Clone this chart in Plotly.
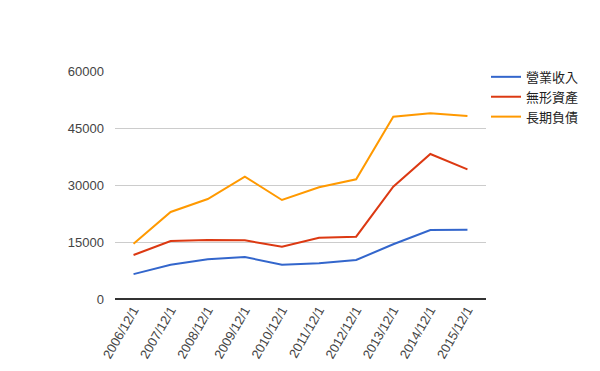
import plotly.graph_objects as go

dates = ["2006/12/1", "2007/12/1", "2008/12/1", "2009/12/1", "2010/12/1",
         "2011/12/1", "2012/12/1", "2013/12/1", "2014/12/1", "2015/12/1"]
revenue = [6550, 9000, 10450, 11050, 9000, 9400, 10260, 14400, 18160, 18200]
intangible = [11580, 15260, 15500, 15440, 13770, 16140, 16400, 29560, 38160, 34130]
long_debt = [14560, 22900, 26300, 32190, 26050, 29400, 31500, 47980, 48860, 48160]

series_names = ["營業收入", "無形資產", "長期負債"]
colors = ["#3366cc", "#dc3912", "#ff9900"]
y_ticks = [0, 15000, 30000, 45000, 60000]

fig = go.Figure()
for name, vals, c in zip(series_names, [revenue, intangible, long_debt], colors):
    fig.add_trace(go.Scatter(x=dates, y=vals, name=name, mode="lines",
                             line=dict(color=c, width=2)))

fig.update_layout(
    width=600, height=371,
    margin=dict(l=115, r=114, t=71, b=72, autoexpand=False),
    paper_bgcolor="white", plot_bgcolor="white",
    font=dict(family="Liberation Sans, Arial, Noto Sans CJK TC", size=13, color="#444"),
    showlegend=True,
    legend=dict(x=1.0, y=1.04, xanchor="left", yanchor="top",
                font=dict(size=13, color="#222", family="Noto Sans CJK TC, Liberation Sans"),
                tracegroupgap=0, itemwidth=30, bgcolor="rgba(0,0,0,0)"),
    xaxis=dict(type="category", range=[-0.5, 9.5], tickangle=-60, showgrid=False,
               showline=False, ticks="", automargin=False,
               tickfont=dict(size=13, color="#444"), zeroline=False),
    yaxis=dict(range=[0, 60000], tickvals=y_ticks, ticktext=[str(v) for v in y_ticks],
               showgrid=True, gridcolor="#cccccc", gridwidth=1, automargin=False,
               zeroline=True, zerolinecolor="#333333", zerolinewidth=1.5,
               showline=False, ticks="", ticklabelstandoff=10,
               tickfont=dict(size=13, color="#444")),
)

fig.write_html("out.html", config={"displayModeBar": False},
               post_script="document.body.style.margin='0';document.body.style.padding='0';")
